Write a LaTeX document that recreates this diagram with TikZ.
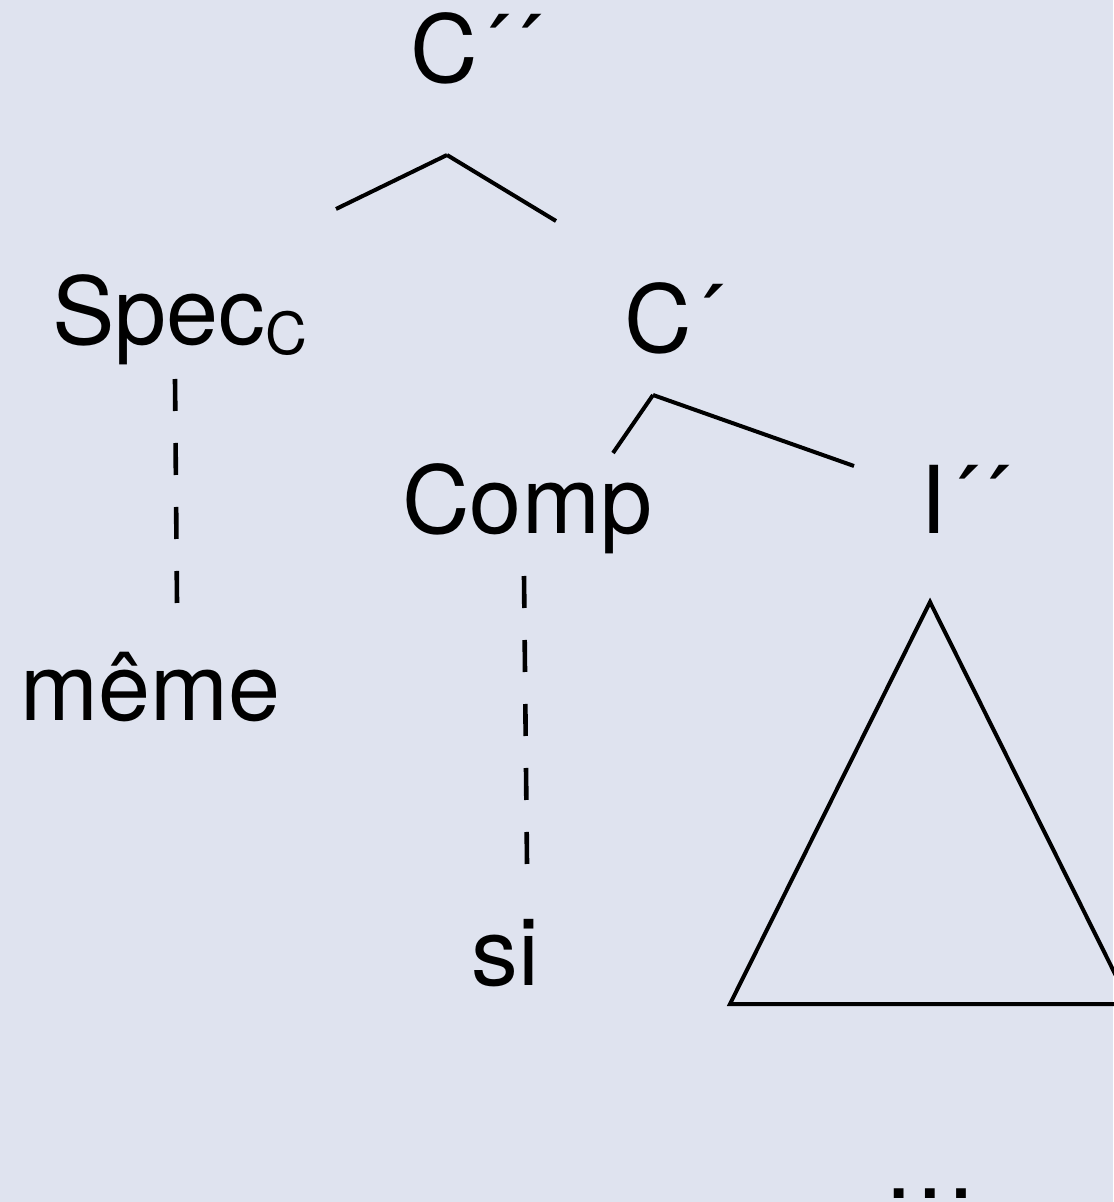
\documentclass[tikz,border=0pt]{standalone}
\usepackage{fontspec}
\setmainfont{TeX Gyre Heros}
\usepackage{xcolor}
\definecolor{cBack}{HTML}{DFE3EF}
\definecolor{cInk}{HTML}{000000}
\usepackage{tikz}
\usetikzlibrary{positioning}
\tikzset{
  node-cat/.style={inner sep=0pt,anchor=base west,text=cInk,
    font=\fontsize{46.8}{56}\selectfont},
  node-word/.style={node-cat},
  branch/.style={line width=2pt,draw=cInk},
  branch-dash/.style={line width=2.3pt,draw=cInk,dash pattern=on 16pt off 16pt},
}
\newcommand{\subC}{{\fontsize{29}{30}\selectfont\raisebox{-5pt}{C}}}

\begin{document}
\begin{tikzpicture}[x=0.5pt,y=-0.5pt]
  \fill[cBack] (0,0) rectangle (1113,1202);
  \useasboundingbox (0,0) rectangle (1113,1202);
  % categories
  \node[node-cat] (cpp) at (410,83) {C´´};
  \node[node-cat] (spec) at (52,345) {Spec\subC};
  \node[node-cat] (cp) at (624,353) {C´};
  \node[node-cat] (comp) at (402,533) {Comp};
  \node[node-cat] (ipp) at (920,533) {I´´};
  % words
  \node[node-word] (meme) at (20,720) {même};
  \node[node-word] (si) at (471,985) {si};
  \node[node-word] (dots) at (883,1198) {…};
  % branch ends
  \coordinate (cpp-foot) at (447,155);
  \coordinate (spec-head) at (336,209);
  \coordinate (cp-head) at (556,221);
  \coordinate (cp-foot) at (653,395);
  \coordinate (comp-head) at (613,453);
  \coordinate (ipp-head) at (854,466);
  \coordinate (spec-foot) at (175,379);
  \coordinate (meme-head) at (177,603);
  \coordinate (comp-foot) at (524,576);
  \coordinate (si-head) at (527,864);
  \draw[branch] (cpp-foot) -- (spec-head);
  \draw[branch] (cpp-foot) -- (cp-head);
  \draw[branch] (cp-foot) -- (comp-head);
  \draw[branch] (cp-foot) -- (ipp-head);
  \draw[branch-dash] (spec-foot) -- (meme-head);
  \draw[branch-dash] (comp-foot) -- (si-head);
  % triangle under I''
  \draw[branch,line join=miter] (930,602) -- (730,1004) -- (1130,1004) -- cycle;
\end{tikzpicture}
\end{document}
